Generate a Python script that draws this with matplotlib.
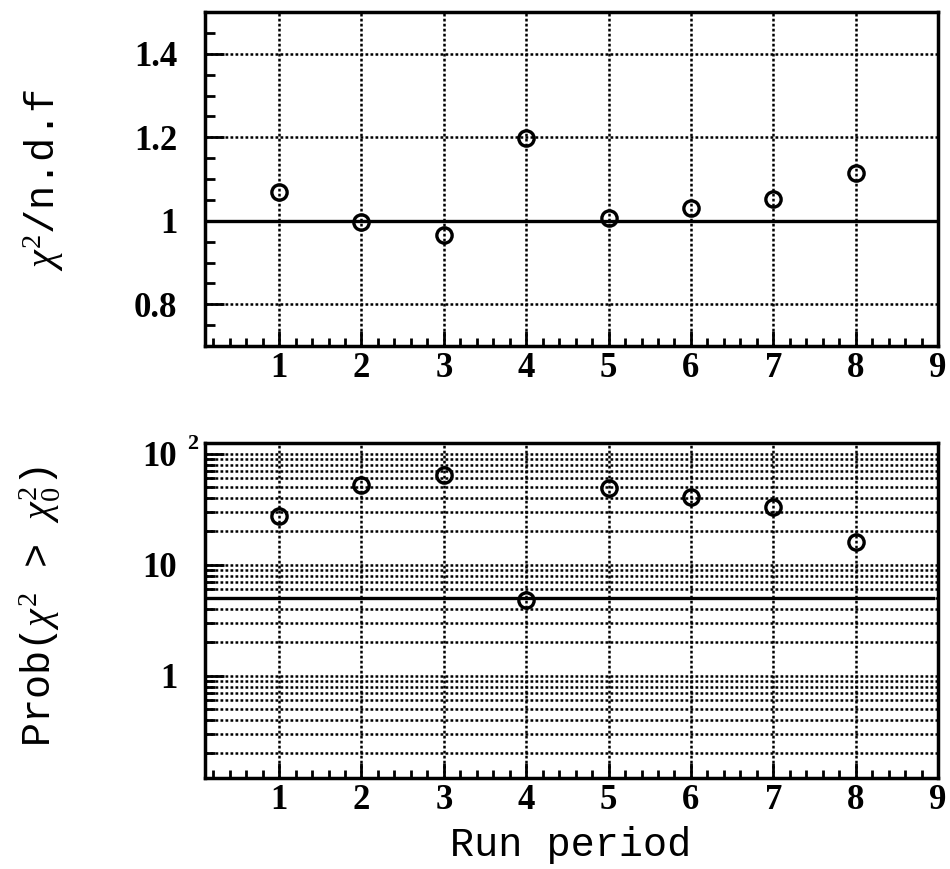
import matplotlib
matplotlib.use('Agg')
import matplotlib.pyplot as plt
from matplotlib.ticker import FixedLocator, MultipleLocator, FixedFormatter, NullFormatter
import matplotlib.transforms as mtransforms

# ---------------- data ----------------
run_period = [1, 2, 3, 4, 5, 6, 7, 8]
chi2_ndf = [1.07, 0.996, 0.965, 1.198, 1.006, 1.030, 1.052, 1.114]
prob_pct = [27.5, 52.6, 64.9, 4.8, 49.0, 40.4, 33.0, 16.1]
chi2_ref = 1.0
prob_ref = 5.0

x_ticks = [1, 2, 3, 4, 5, 6, 7, 8, 9]
x_tick_labels = ['1', '2', '3', '4', '5', '6', '7', '8', '9']
top_yticks = [0.8, 1.0, 1.2, 1.4]
top_ytick_labels = ['0.8', '1', '1.2', '1.4']
bot_yticks = [1, 10, 100]
bot_ytick_labels = ['1', '10', '10']   # the last one gets a superscript "2" (10^2)
bot_exponent = '2'

x_label = 'Run period'
top_ylabel = r'$\chi^{2}$/n.d.f'
bot_ylabel = r'Prob($\chi^{2}$ > $\chi_{0}^{2}$)'

# ---------------- style ----------------
plt.rcParams['mathtext.fontset'] = 'custom'
plt.rcParams['mathtext.rm'] = 'Liberation Serif'
plt.rcParams['mathtext.it'] = 'Liberation Serif:italic'
plt.rcParams['mathtext.bf'] = 'Liberation Serif:bold'

W, H = 950, 869
fig = plt.figure(figsize=(W / 100, H / 100), dpi=100)

def px_axes(l, t, r, b):
    return [l / W, 1 - b / H, (r - l) / W, (b - t) / H]

ax1 = fig.add_axes(px_axes(205, 12, 938, 346))
ax2 = fig.add_axes(px_axes(205, 443, 938, 778))

tick_font = dict(family='Liberation Serif', weight='bold', size=25)
grid_kw = dict(color='black', linestyle=(0, (1.1, 0.9)), linewidth=1.8)
marker_kw = dict(linestyle='none', marker='o', markerfacecolor='none',
                 markeredgecolor='black', markersize=11, markeredgewidth=2.4, zorder=5)

def style_common(ax):
    for s in ax.spines.values():
        s.set_linewidth(2.5)
        s.set_color('black')
    ax.set_xlim(0.1, 9.0)
    ax.xaxis.set_major_locator(FixedLocator(x_ticks))
    ax.xaxis.set_major_formatter(FixedFormatter(x_tick_labels))
    ax.xaxis.set_minor_locator(MultipleLocator(0.2))
    ax.tick_params(axis='both', which='both', direction='in', top=False, right=False,
                   width=2.0, color='black')
    ax.tick_params(axis='x', which='major', length=11, pad=4)
    ax.tick_params(axis='x', which='minor', length=6)
    ax.tick_params(axis='y', which='major', length=14, pad=20)
    ax.tick_params(axis='y', which='minor', length=7)
    for lab in ax.get_xticklabels() + ax.get_yticklabels():
        lab.set_fontproperties(tick_font)
    ax.xaxis.grid(True, which='major', **grid_kw)
    ax.set_axisbelow(True)

# ---- top panel ----
ax1.plot(run_period, chi2_ndf, **marker_kw)
ax1.axhline(chi2_ref, color='black', linewidth=2.4, zorder=4)
ax1.set_ylim(0.7, 1.5)
ax1.yaxis.set_major_locator(FixedLocator(top_yticks))
ax1.yaxis.set_major_formatter(FixedFormatter(top_ytick_labels))
ax1.yaxis.set_minor_locator(MultipleLocator(0.05))
style_common(ax1)
ax1.yaxis.grid(True, which='major', **grid_kw)

# ---- bottom panel ----
ax2.plot(run_period, prob_pct, **marker_kw)
ax2.axhline(prob_ref, xmax=0.993, color='black', linewidth=2.4, zorder=4)
ax2.set_yscale('log')
ax2.set_ylim(0.12, 125)
ax2.yaxis.set_major_locator(FixedLocator(bot_yticks))
ax2.yaxis.set_major_formatter(FixedFormatter(bot_ytick_labels))
minor_vals = [m * 10 ** e for e in (-1, 0, 1, 2) for m in range(2, 10)]
ax2.yaxis.set_minor_locator(FixedLocator(minor_vals))
ax2.yaxis.set_minor_formatter(NullFormatter())
style_common(ax2)
ax2.yaxis.grid(True, which='both', **grid_kw)

# superscript exponent of the 10^2 label
trans = mtransforms.blended_transform_factory(fig.transFigure, ax2.transData)
ax2.text(187 / W, 100, bot_exponent, transform=trans, ha='left', va='bottom',
         fontsize=16, family='Liberation Serif', weight='bold', clip_on=False)

# ---- axis titles ----
lab_kw = dict(family='Liberation Mono', size=29, color='black')
fig.text(44 / W, 1 - 180 / H, top_ylabel, rotation=90, ha='center', va='center', **lab_kw)
fig.text(40 / W, 1 - 606 / H, bot_ylabel, rotation=90, ha='center', va='center', **lab_kw)
fig.text(571 / W, 1 - 856 / H, x_label, ha='center', va='baseline', **lab_kw)

fig.savefig('out.png', dpi=100, facecolor='white')
